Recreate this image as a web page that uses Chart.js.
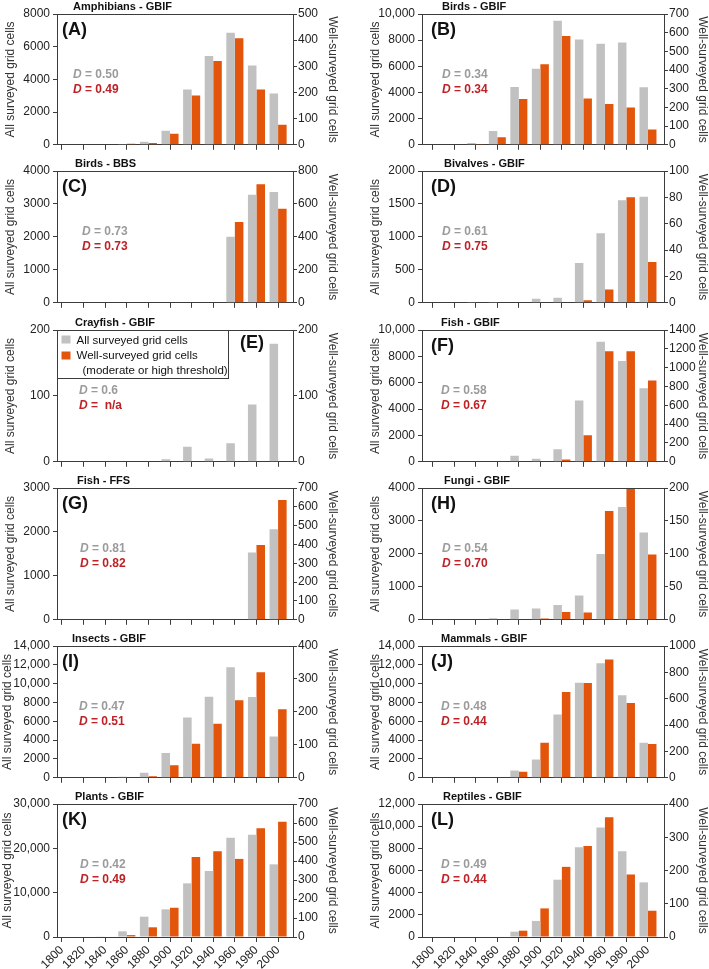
<!DOCTYPE html>
<html>
<head>
<meta charset="utf-8">
<script src="https://cdn.jsdelivr.net/npm/chart.js@4.4.1/dist/chart.umd.min.js"></script>
<style>
  html, body { margin: 0; padding: 0; background: #fff; }
  body { width: 709px; height: 969px; position: relative; overflow: hidden; }
  canvas { position: absolute; }
</style>
</head>
<body>
<script>
// decades on the x axis
const years = [1800, 1820, 1840, 1860, 1880, 1900, 1920, 1940, 1960, 1980, 2000];

// all surveyed grid cells (left axis) / well-surveyed grid cells (right axis)
const amphibiansAll  = [0, 0, 0, 50, 190, 860, 3380, 5430, 6850, 4850, 3130];
const amphibiansWell = [0, 0, 0, 4, 7, 42, 188, 320, 407, 211, 77];
const birdsGbifAll   = [0, 0, 130, 1060, 4420, 5820, 9490, 8050, 7720, 7820, 4400];
const birdsGbifWell  = [0, 0, 2, 41, 245, 431, 582, 248, 218, 199, 82];
const birdsBbsAll    = [0, 0, 0, 0, 0, 0, 0, 0, 2005, 3280, 3360];
const birdsBbsWell   = [0, 0, 0, 0, 0, 0, 0, 0, 491, 719, 571];
const bivalvesAll    = [0, 0, 5, 6, 8, 60, 75, 603, 1055, 1558, 1608];
const bivalvesWell   = [0, 0, 0, 0, 0, 0, 0, 2, 10, 80, 31];
const crayfishAll    = [0, 0, 1, 1, 1, 4, 23, 5, 28, 87, 179];
const crayfishWell   = [0, 0, 0, 0, 0, 0, 0, 0, 0, 0, 0];
const fishGbifAll    = [0, 0, 0, 0, 450, 230, 960, 4650, 9100, 7650, 5580];
const fishGbifWell   = [0, 0, 0, 0, 0, 0, 25, 282, 1175, 1175, 864];
const fishFfsAll     = [0, 0, 0, 0, 0, 0, 0, 0, 0, 1530, 2060];
const fishFfsWell    = [0, 0, 0, 0, 0, 0, 0, 0, 0, 397, 636];
const fungiAll       = [0, 0, 0, 50, 310, 340, 450, 740, 2000, 3420, 2650];
const fungiWell      = [0, 0, 0, 0, 0, 2, 12, 11, 165, 200, 99];
const insectsAll     = [0, 0, 0, 100, 530, 2640, 6400, 8620, 11750, 8580, 4400];
const insectsWell    = [0, 0, 0, 0, 5, 38, 103, 164, 235, 320, 208];
const mammalsAll     = [0, 0, 0, 0, 770, 1935, 6720, 10100, 12170, 8760, 3730];
const mammalsWell    = [0, 0, 0, 0, 45, 266, 651, 719, 897, 568, 256];
const plantsAll      = [0, 0, 150, 1280, 4590, 6240, 12100, 14890, 22400, 23080, 16390];
const plantsWell     = [0, 0, 0, 10, 51, 154, 421, 451, 411, 572, 607];
const reptilesAll    = [0, 0, 0, 0, 480, 1450, 5170, 8100, 9880, 7740, 4930];
const reptilesWell   = [0, 0, 0, 0, 19, 86, 211, 274, 360, 188, 79];

const titles = ['Amphibians - GBIF', 'Birds - GBIF', 'Birds - BBS', 'Bivalves - GBIF',
  'Crayfish - GBIF', 'Fish - GBIF', 'Fish - FFS', 'Fungi - GBIF',
  'Insects - GBIF', 'Mammals - GBIF', 'Plants - GBIF', 'Reptiles - GBIF'];
const tags = ['A', 'B', 'C', 'D', 'E', 'F', 'G', 'H', 'I', 'J', 'K', 'L'];
const dAllText  = ['0.50', '0.34', '0.73', '0.61', '0.6', '0.58', '0.81', '0.54', '0.47', '0.48', '0.42', '0.49'];
const dWellText = ['0.49', '0.34', '0.73', '0.75', ' n/a', '0.67', '0.82', '0.70', '0.51', '0.44', '0.49', '0.44'];
const leftMax   = [8000, 10000, 4000, 2000, 200, 10000, 3000, 4000, 14000, 14000, 30000, 12000];
const leftStep  = [2000, 2000, 1000, 500, 100, 2000, 1000, 1000, 2000, 2000, 10000, 2000];
const rightMax  = [500, 700, 800, 100, 200, 1400, 700, 200, 400, 1000, 700, 400];
const rightStep = [100, 100, 200, 20, 100, 200, 100, 50, 100, 200, 100, 100];

const allSeries  = [amphibiansAll, birdsGbifAll, birdsBbsAll, bivalvesAll, crayfishAll, fishGbifAll,
  fishFfsAll, fungiAll, insectsAll, mammalsAll, plantsAll, reptilesAll];
const wellSeries = [amphibiansWell, birdsGbifWell, birdsBbsWell, bivalvesWell, crayfishWell, fishGbifWell,
  fishFfsWell, fungiWell, insectsWell, mammalsWell, plantsWell, reptilesWell];

// page layout
const FONT = "'Liberation Sans', Arial, sans-serif";
const GRAY = '#c1c1c1', ORANGE = '#e2550b', AXIS = '#3c3c3c';
const rowTops = [14, 171, 330, 488, 646, 804];
const rowBottoms = [145, 303, 462, 620, 778, 937];
const colLefts = [0, 354], colWidths = [354, 356];
const leftAxisW = [57, 68], rightAxisW = [61, 46];
const leftTitlePad = [3, 14, 3, 14, 3, 14, 3, 14, 0, 14, 0, 14];
const rightTitlePad = [14, 0];
const xMin = [1795.4, 1790], xMax = [2013.8, 2014.9];
const titleDx = [16, 20, 18, 22, 18, 19, 20, 22, 15, 19, 18, 21];
const dDx = [16, 20, 25, 20, 22, 19, 23, 20, 22, 19, 23, 19];

Chart.defaults.font.family = FONT;
Chart.defaults.font.size = 12;
Chart.defaults.color = '#222';

const fmt = v => v >= 10000 ? v.toLocaleString('en-US') : String(v);

function drawD(ctx, x, y, color, txt) {
  ctx.fillStyle = color;
  ctx.font = 'italic bold 12px ' + FONT;
  ctx.fillText('D', x, y);
  const w = ctx.measureText('D').width;
  ctx.font = 'bold 12px ' + FONT;
  ctx.fillText(' = ' + txt, x + w, y);
}

const annot = {
  id: 'annot',
  afterDraw(chart, args, o) {
    const ctx = chart.ctx, a = chart.chartArea;
    ctx.save();
    ctx.strokeStyle = AXIS;
    ctx.lineWidth = 1;
    ctx.beginPath();
    ctx.moveTo(a.left, Math.round(a.top) + 0.5);
    ctx.lineTo(a.right, Math.round(a.top) + 0.5);
    ctx.stroke();
    ctx.textBaseline = 'middle';
    ctx.textAlign = 'left';
    ctx.fillStyle = '#111';
    ctx.font = 'bold 11px ' + FONT;
    ctx.fillText(o.title, a.left + o.titleDx, a.top - 7.5);
    ctx.font = 'bold 18px ' + FONT;
    if (o.tag === 'E') ctx.fillText('(E)', a.left + 183, a.top + 13.5);
    else ctx.fillText('(' + o.tag + ')', a.left + (o.col ? 9 : 5), a.top + 16.5);
    drawD(ctx, a.left + o.dDx, a.top + 60.5, '#9b9b9b', o.dAll);
    drawD(ctx, a.left + o.dDx, a.top + 76, '#be2126', o.dWell);
    if (o.legend) {
      const lx = Math.round(a.left) + 0.5, ly = Math.round(a.top) + 0.5;
      ctx.fillStyle = '#fff';
      ctx.fillRect(lx, ly, 171, 48);
      ctx.strokeStyle = AXIS;
      ctx.strokeRect(lx, ly, 171, 48);
      ctx.fillStyle = GRAY;
      ctx.fillRect(lx + 4, ly + 5, 9, 8);
      ctx.fillStyle = ORANGE;
      ctx.fillRect(lx + 4, ly + 21, 9, 8);
      ctx.fillStyle = '#111';
      ctx.font = '11.5px ' + FONT;
      ctx.fillText(chart.data.datasets[0].label, lx + 19, ly + 10);
      ctx.fillText(chart.data.datasets[1].label, lx + 19, ly + 25);
      ctx.fillText('(moderate or high threshold)', lx + 25, ly + 40);
    }
    ctx.restore();
  }
};

titles.forEach((title, i) => {
  const row = Math.floor(i / 2), col = i % 2, bottomRow = row === 5;
  const xh = bottomRow ? 32 : 10;
  const top = rowTops[row], bot = rowBottoms[row];
  const w = colWidths[col], h = 15 + (bot - top) + xh;
  const cv = document.createElement('canvas');
  cv.width = w; cv.height = h;
  cv.style.left = colLefts[col] + 'px';
  cv.style.top = (top - 15) + 'px';
  cv.style.width = w + 'px';
  cv.style.height = h + 'px';
  document.body.appendChild(cv);

  new Chart(cv, {
    type: 'bar',
    data: {
      datasets: [
        {
          label: 'All surveyed grid cells',
          data: years.map((yr, k) => ({ x: yr, y: allSeries[i][k] })),
          backgroundColor: GRAY,
          borderWidth: 0,
          yAxisID: 'y',
          categoryPercentage: 0.79,
          barPercentage: 1.0
        },
        {
          label: 'Well-surveyed grid cells',
          data: years.map((yr, k) => ({ x: yr, y: wellSeries[i][k] })),
          backgroundColor: ORANGE,
          borderWidth: 0,
          yAxisID: 'y1',
          categoryPercentage: 0.79,
          barPercentage: 1.0
        }
      ]
    },
    options: {
      responsive: false,
      devicePixelRatio: 1,
      animation: false,
      layout: { padding: { top: 15, left: 0, right: 0, bottom: 0 } },
      plugins: {
        legend: { display: false },
        tooltip: { enabled: false },
        annot: {
          title: title, tag: tags[i], col: col,
          titleDx: titleDx[i], dDx: dDx[i],
          dAll: dAllText[i], dWell: dWellText[i],
          legend: tags[i] === 'E'
        }
      },
      scales: {
        x: {
          type: 'linear',
          min: xMin[col],
          max: xMax[col],
          bounds: 'data',
          offset: false,
          afterBuildTicks: s => { s.ticks = years.map(v => ({ value: v })); },
          afterFit: s => { s.height = xh; },
          ticks: {
            display: bottomRow,
            autoSkip: false,
            minRotation: 45,
            maxRotation: 45,
            padding: 1,
            color: '#222',
            font: { size: 12 },
            callback: v => String(v)
          },
          grid: { drawOnChartArea: false, drawTicks: true, tickLength: 5, tickColor: AXIS, color: AXIS, offset: false },
          border: { display: true, color: AXIS, width: 1 }
        },
        y: {
          type: 'linear',
          position: 'left',
          min: 0,
          max: leftMax[i],
          afterFit: s => { s.width = leftAxisW[col]; },
          ticks: { stepSize: leftStep[i], autoSkip: false, padding: 3, color: '#222', font: { size: 12 }, callback: fmt },
          grid: { drawOnChartArea: false, drawTicks: true, tickLength: 4, tickColor: AXIS, color: AXIS },
          border: { display: true, color: AXIS, width: 1 },
          title: { display: true, text: 'All surveyed grid cells', color: '#333', font: { size: 12 },
                   padding: { top: leftTitlePad[i], bottom: 0 } }
        },
        y1: {
          type: 'linear',
          position: 'right',
          min: 0,
          max: rightMax[i],
          afterFit: s => { s.width = rightAxisW[col]; },
          ticks: { stepSize: rightStep[i], autoSkip: false, padding: 1, color: '#222', font: { size: 12 }, callback: fmt },
          grid: { drawOnChartArea: false, drawTicks: true, tickLength: 4, tickColor: AXIS, color: AXIS },
          border: { display: true, color: AXIS, width: 1 },
          title: { display: true, text: 'Well-surveyed grid cells', color: '#333', font: { size: 12 },
                   padding: { top: rightTitlePad[col], bottom: 0 } }
        }
      }
    },
    plugins: [annot]
  });
});
</script>
</body>
</html>
